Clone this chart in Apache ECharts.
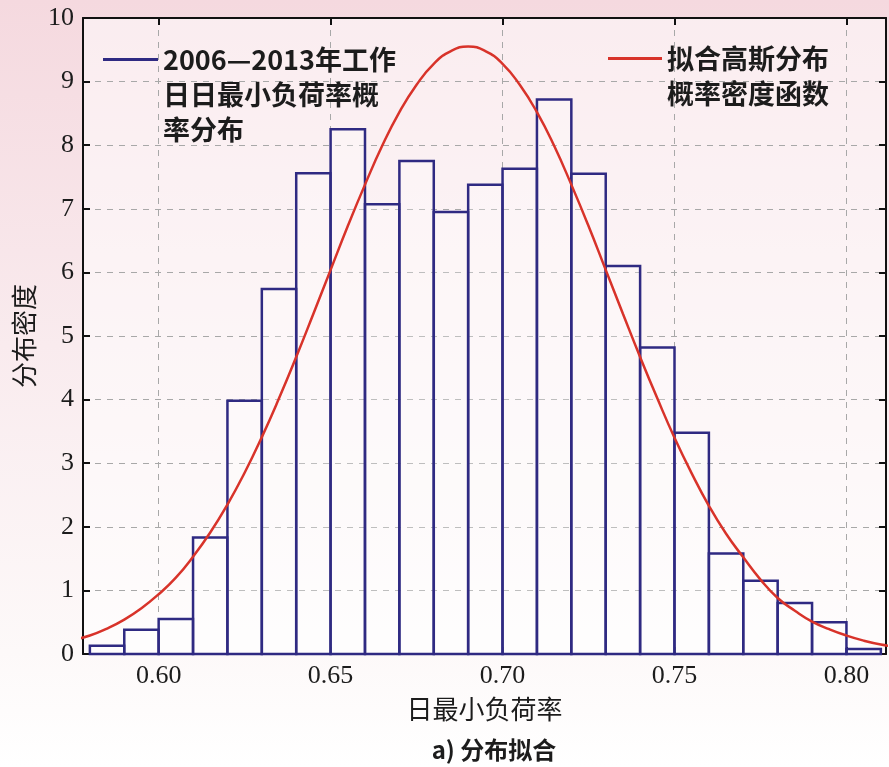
<!DOCTYPE html>
<html>
<head>
<meta charset="utf-8">
<script src="https://cdn.jsdelivr.net/npm/echarts@6/dist/echarts.min.js"></script>
<style>html,body{margin:0;padding:0;}#c{width:889px;height:767px;}</style>
</head>
<body>
<div id="c"></div>
<script>
// ---- data ----
var binStart = [0.58,0.59,0.60,0.61,0.62,0.63,0.64,0.65,0.66,0.67,0.68,0.69,0.70,0.71,0.72,0.73,0.74,0.75,0.76,0.77,0.78,0.79,0.80];
var binWidth = 0.01;
var density  = [0.13,0.38,0.55,1.83,3.98,5.74,7.56,8.25,7.07,7.75,6.95,7.38,7.63,8.72,7.55,6.10,4.82,3.48,1.58,1.15,0.80,0.50,0.08];
var curveX = [0.575,0.580,0.585,0.590,0.595,0.600,0.605,0.610,0.615,0.620,0.625,0.630,0.635,0.640,0.645,0.650,0.655,0.660,0.665,0.670,0.675,0.680,0.685,0.690,0.695,0.700,0.705,0.710,0.715,0.720,0.725,0.730,0.735,0.740,0.745,0.750,0.755,0.760,0.765,0.770,0.775,0.780,0.785,0.790,0.795,0.800,0.805,0.810,0.815];
var curveY = [0.22,0.29,0.40,0.54,0.72,0.94,1.20,1.53,1.91,2.35,2.85,3.41,4.02,4.67,5.35,6.04,6.73,7.38,7.99,8.52,8.95,9.28,9.48,9.55,9.48,9.28,8.95,8.52,7.99,7.38,6.73,6.04,5.35,4.67,4.02,3.40,2.84,2.33,1.89,1.52,1.17,0.88,0.68,0.51,0.39,0.29,0.21,0.15,0.11];
var xTicks = [0.60,0.65,0.70,0.75,0.80];
var yTicks = [0,1,2,3,4,5,6,7,8,9,10];
var seriesNames = ['2006\u20142013年工作\n日日最小负荷率概\n率分布', '拟合高斯分布\n概率密度函数'];
var xTitle = '日最小负荷率';
var yTitle = '分布密度';
var subTitle = 'a) 分布拟合';

var barData = binStart.map(function(s,i){ return [s, s+binWidth, density[i]]; });
var lineData = curveX.map(function(x,i){ return [x, curveY[i]]; });

var serif = '"Liberation Serif","Noto Sans CJK SC",serif';
var cjk = '"Noto Sans CJK SC","Liberation Serif",sans-serif';
var ink = '#1c1c1c';
var barColor = '#2f2a82';
var redColor = '#d8332a';
var gridColor = '#a8a8a8';

var chart = echarts.init(document.getElementById('c'));
chart.setOption({
  animation: false,
  backgroundColor: {
    type: 'linear', x: 0, y: 0, x2: 0, y2: 1,
    colorStops: [
      {offset: 0, color: '#f5d9df'},
      {offset: 0.45, color: '#f9ebee'},
      {offset: 0.85, color: '#fdf9f9'},
      {offset: 1, color: '#ffffff'}
    ]
  },
  title: {
    text: subTitle,
    left: 489, top: 733, textAlign: 'center',
    textStyle: {fontFamily: cjk, fontSize: 24, fontWeight: 'bold', color: ink}
  },
  grid: {
    left: 83, right: 3, top: 18, bottom: 113,
    show: true, backgroundColor: 'rgba(255,255,255,0.5)', borderWidth: 0
  },
  legend: [
    {
      data: [{name: seriesNames[0], icon: 'rect', itemStyle: {color: barColor, borderWidth: 0}}],
      left: 98, top: -33, padding: 5,
      itemWidth: 55, itemHeight: 3,
      selectedMode: false,
      formatter: function(n){ return '\n\n' + n; },
      textStyle: {fontFamily: cjk, fontSize: 27, fontWeight: 'bold', color: ink, lineHeight: 35}
    },
    {
      data: [{name: seriesNames[1], icon: 'rect', itemStyle: {color: redColor, borderWidth: 0}}],
      left: 603, top: 1, padding: 5,
      itemWidth: 54, itemHeight: 3,
      selectedMode: false,
      formatter: function(n){ return '\n' + n; },
      textStyle: {fontFamily: cjk, fontSize: 27, fontWeight: 'bold', color: ink, lineHeight: 35}
    }
  ],
  xAxis: [
    {
      type: 'value', min: 0.578, max: 0.8115, position: 'bottom',
      name: xTitle, nameLocation: 'middle', nameGap: 42,
      nameTextStyle: {fontFamily: cjk, fontSize: 26, color: ink},
      axisLine: {show: true, onZero: false, lineStyle: {color: '#111', width: 2}},
      axisTick: {show: true, inside: true, length: 7, customValues: xTicks, lineStyle: {color: '#111', width: 2}},
      axisLabel: {customValues: xTicks, margin: 9, fontFamily: serif, fontSize: 26, color: ink,
        formatter: function(v){ return v.toFixed(2); }},
      splitLine: {show: true, lineStyle: {color: gridColor, width: 1, type: [6, 6]}}
    },
    {
      type: 'value', min: 0.578, max: 0.8115, position: 'top',
      axisLine: {show: true, onZero: false, lineStyle: {color: '#111', width: 2}},
      axisTick: {show: true, inside: true, length: 7, customValues: xTicks, lineStyle: {color: '#111', width: 2}},
      axisLabel: {show: false},
      splitLine: {show: false}
    }
  ],
  yAxis: [
    {
      type: 'value', min: 0, max: 10, interval: 1, position: 'left',
      name: yTitle, nameLocation: 'middle', nameGap: 44, nameRotate: 90,
      nameTextStyle: {fontFamily: cjk, fontSize: 26, color: ink},
      axisLine: {show: true, onZero: false, lineStyle: {color: '#111', width: 2}},
      axisTick: {show: true, inside: true, length: 7, lineStyle: {color: '#111', width: 2}},
      axisLabel: {margin: 9, fontFamily: serif, fontSize: 26, color: ink},
      splitLine: {show: true, lineStyle: {color: gridColor, width: 1, type: [6, 6]}}
    },
    {
      type: 'value', min: 0, max: 10, interval: 1, position: 'right',
      axisLine: {show: true, onZero: false, lineStyle: {color: '#111', width: 2}},
      axisTick: {show: true, inside: true, length: 7, lineStyle: {color: '#111', width: 2}},
      axisLabel: {show: false},
      splitLine: {show: false}
    }
  ],
  series: [
    {
      name: seriesNames[0],
      type: 'custom',
      xAxisIndex: 0, yAxisIndex: 0,
      data: barData,
      encode: {x: [0, 1], y: 2},
      itemStyle: {color: barColor},
      z: 2,
      renderItem: function(params, api){
        var p0 = api.coord([api.value(0), api.value(2)]);
        var p1 = api.coord([api.value(1), 0]);
        return {
          type: 'rect',
          shape: {x: p0[0], y: p0[1], width: p1[0]-p0[0], height: p1[1]-p0[1]},
          style: {fill: 'rgba(255,255,255,0.25)', stroke: barColor, lineWidth: 2.5}
        };
      }
    },
    {
      name: seriesNames[1],
      type: 'line',
      xAxisIndex: 0, yAxisIndex: 0,
      data: lineData,
      smooth: true,
      showSymbol: false,
      clip: true,
      z: 3,
      itemStyle: {color: redColor},
      lineStyle: {color: redColor, width: 2.5}
    }
  ]
});
</script>
</body>
</html>
